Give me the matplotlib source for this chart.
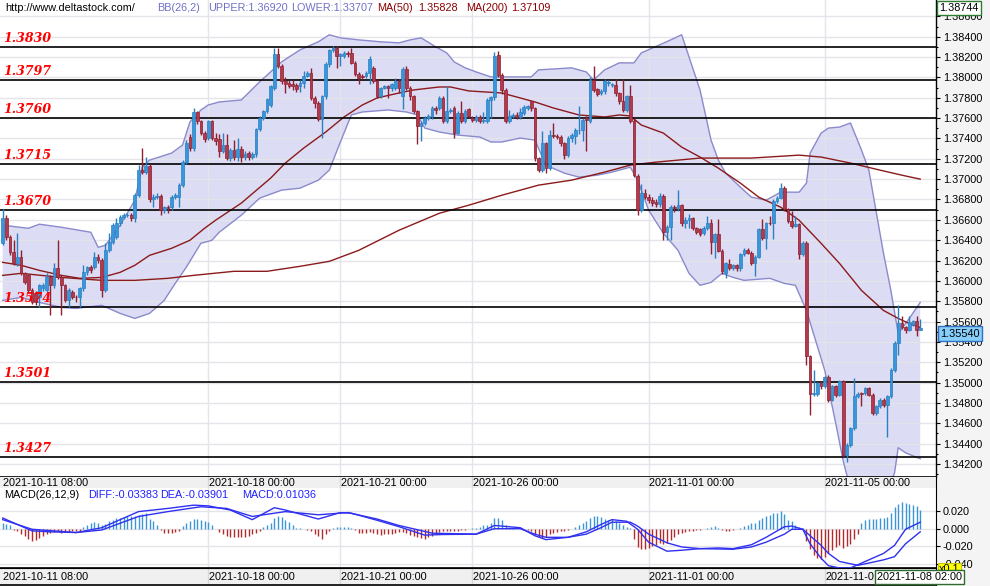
import numpy as np
import matplotlib
matplotlib.use("Agg")
import matplotlib.pyplot as plt
from matplotlib.ticker import MultipleLocator, FuncFormatter

plt.rcParams['font.family'] = ['Liberation Sans', 'DejaVu Sans']

# ---- 2H candles, 2021-10-11 08:00 onwards ----
opens = [
    1.36368, 1.36615, 1.36434, 1.36286, 1.36171, 1.36237, 1.36073, 1.36057, 1.35909, 1.35876,
    1.35843, 1.35925, 1.35910, 1.36040, 1.35958, 1.36122, 1.36040, 1.35958, 1.35810, 1.35892,
    1.35843, 1.35843, 1.35925, 1.36089, 1.36139, 1.36139, 1.36237, 1.36204, 1.35909, 1.36303,
    1.36385, 1.36434, 1.36566, 1.36631, 1.36648, 1.36648, 1.36615, 1.36845, 1.37091, 1.37075,
    1.37130, 1.36802, 1.36822, 1.36835, 1.36697, 1.36730, 1.36730, 1.36828, 1.36828, 1.36943,
    1.37173, 1.37419, 1.37304, 1.37656, 1.37567, 1.37452, 1.37403, 1.37567, 1.37407, 1.37390,
    1.37275, 1.37340, 1.37210, 1.37290, 1.37220, 1.37300, 1.37220, 1.37260, 1.37220, 1.37243,
    1.37489, 1.37604, 1.37669, 1.37730, 1.37899, 1.38228, 1.38113, 1.37965, 1.37949, 1.37940,
    1.37930, 1.37916, 1.37949, 1.38014, 1.38047, 1.37801, 1.37752, 1.37587, 1.37817, 1.38129,
    1.38267, 1.38293, 1.38211, 1.38211, 1.38240, 1.38244, 1.38146, 1.38031, 1.38014, 1.38014,
    1.38047, 1.38096, 1.37965, 1.37817, 1.37900, 1.37916, 1.37899, 1.37899, 1.37965, 1.37817,
    1.38080, 1.37899, 1.37817, 1.37669, 1.37522, 1.37555, 1.37604, 1.37620, 1.37700, 1.37702,
    1.37801, 1.37571, 1.37669, 1.37702, 1.37456, 1.37653, 1.37571, 1.37686, 1.37600, 1.37580,
    1.37610, 1.37570, 1.37568, 1.37775, 1.37807, 1.38224, 1.38027, 1.37880, 1.37568, 1.37623,
    1.37633, 1.37610, 1.37650, 1.37699, 1.37765, 1.37699, 1.37206, 1.37091, 1.37354, 1.37114,
    1.37436, 1.37420, 1.37413, 1.37354, 1.37239, 1.37403, 1.37420, 1.37479, 1.37479, 1.37600,
    1.37568, 1.37978, 1.37886, 1.37847, 1.37863, 1.37945, 1.37929, 1.37929, 1.37847, 1.37765,
    1.37683, 1.37814, 1.37568, 1.37032, 1.36697, 1.36862, 1.36829, 1.36796, 1.36780, 1.36757,
    1.36839, 1.36484, 1.36533, 1.36730, 1.36714, 1.36747, 1.36566, 1.36599, 1.36615, 1.36517,
    1.36506, 1.36473, 1.36523, 1.36572, 1.36381, 1.36457, 1.36293, 1.36079, 1.36161, 1.36129,
    1.36152, 1.36129, 1.36260, 1.36303, 1.36276, 1.36178, 1.36237, 1.36506, 1.36424, 1.36572,
    1.36565, 1.36785, 1.36818, 1.36917, 1.36703, 1.36588, 1.36539, 1.36555, 1.36260, 1.36375,
    1.35258, 1.34890, 1.34890, 1.34996, 1.34969, 1.35055, 1.34831, 1.34969, 1.34880, 1.35012,
    1.34289, 1.34388, 1.34552, 1.34864, 1.34897, 1.34897, 1.34946, 1.34880, 1.34700, 1.34766,
    1.34831, 1.34782, 1.34864, 1.35127, 1.35390, 1.35587, 1.35547, 1.35521, 1.35570, 1.35603, 1.35521]

closes = [
    1.36615, 1.36434, 1.36286, 1.36171, 1.36237, 1.36073, 1.35991, 1.35909, 1.35794, 1.35794,
    1.35958, 1.35958, 1.36040, 1.35958, 1.36122, 1.36040, 1.35958, 1.35810, 1.35910, 1.35843,
    1.35840, 1.35925, 1.36089, 1.36139, 1.36106, 1.36237, 1.36204, 1.35909, 1.36303, 1.36385,
    1.36549, 1.36566, 1.36631, 1.36648, 1.36650, 1.36615, 1.36845, 1.37091, 1.37075, 1.37130,
    1.36802, 1.36828, 1.36835, 1.36697, 1.36723, 1.36713, 1.36828, 1.36845, 1.36943, 1.37173,
    1.37354, 1.37304, 1.37656, 1.37567, 1.37452, 1.37393, 1.37567, 1.37403, 1.37374, 1.37275,
    1.37340, 1.37210, 1.37290, 1.37220, 1.37300, 1.37220, 1.37250, 1.37220, 1.37250, 1.37489,
    1.37604, 1.37669, 1.37784, 1.37916, 1.38228, 1.38113, 1.37965, 1.37932, 1.37920, 1.37916,
    1.37883, 1.37949, 1.38014, 1.38047, 1.37800, 1.37752, 1.37587, 1.37817, 1.38129, 1.38267,
    1.38293, 1.38211, 1.38228, 1.38244, 1.38230, 1.38146, 1.38031, 1.37998, 1.38000, 1.38047,
    1.38178, 1.37965, 1.37817, 1.37899, 1.37916, 1.37899, 1.37932, 1.37965, 1.37899, 1.38080,
    1.37899, 1.37817, 1.37669, 1.37522, 1.37555, 1.37604, 1.37620, 1.37702, 1.37680, 1.37801,
    1.37571, 1.37669, 1.37680, 1.37456, 1.37653, 1.37571, 1.37669, 1.37620, 1.37580, 1.37610,
    1.37570, 1.37580, 1.37775, 1.37807, 1.38215, 1.38027, 1.37880, 1.37568, 1.37623, 1.37633,
    1.37610, 1.37656, 1.37709, 1.37715, 1.37699, 1.37206, 1.37091, 1.37354, 1.37114, 1.37436,
    1.37420, 1.37413, 1.37354, 1.37239, 1.37403, 1.37436, 1.37479, 1.37482, 1.37584, 1.37584,
    1.37978, 1.37880, 1.37840, 1.37870, 1.37962, 1.37952, 1.37939, 1.37847, 1.37765, 1.37683,
    1.37814, 1.37568, 1.37042, 1.36697, 1.36862, 1.36829, 1.36796, 1.36763, 1.36757, 1.36839,
    1.36484, 1.36533, 1.36730, 1.36714, 1.36747, 1.36566, 1.36599, 1.36615, 1.36517, 1.36484,
    1.36457, 1.36523, 1.36572, 1.36381, 1.36457, 1.36293, 1.36096, 1.36171, 1.36129, 1.36152,
    1.36129, 1.36260, 1.36303, 1.36276, 1.36178, 1.36237, 1.36506, 1.36424, 1.36565, 1.36565,
    1.36785, 1.36818, 1.36917, 1.36703, 1.36588, 1.36539, 1.36555, 1.36260, 1.36375, 1.35258,
    1.34890, 1.34897, 1.34996, 1.34963, 1.35055, 1.34831, 1.34969, 1.34880, 1.35012, 1.34289,
    1.34388, 1.34552, 1.34864, 1.34890, 1.34890, 1.34946, 1.34880, 1.34700, 1.34766, 1.34831,
    1.34782, 1.34864, 1.35127, 1.35390, 1.35587, 1.35547, 1.35521, 1.35593, 1.35603, 1.35521, 1.35540]

highs = [
    1.36703, 1.36648, 1.36450, 1.36400, 1.36467, 1.36300, 1.36090, 1.36070, 1.35930, 1.35900,
    1.35974, 1.35980, 1.36073, 1.36060, 1.36171, 1.36400, 1.36060, 1.35970, 1.35930, 1.35910,
    1.35860, 1.35940, 1.36155, 1.36150, 1.36160, 1.36286, 1.36260, 1.36220, 1.36368, 1.36467,
    1.36570, 1.36615, 1.36650, 1.36664, 1.36670, 1.36670, 1.36860, 1.37140, 1.37304, 1.37222,
    1.37150, 1.36850, 1.36860, 1.36850, 1.36740, 1.36750, 1.36845, 1.36860, 1.36960, 1.37190,
    1.37380, 1.37440, 1.37699, 1.37670, 1.37580, 1.37470, 1.37580, 1.37580, 1.37450, 1.37440,
    1.37450, 1.37440, 1.37310, 1.37380, 1.37400, 1.37330, 1.37280, 1.37280, 1.37270, 1.37500,
    1.37620, 1.37680, 1.37800, 1.37930, 1.38293, 1.38293, 1.38130, 1.38000, 1.37970, 1.37970,
    1.37950, 1.37970, 1.38060, 1.38060, 1.38096, 1.37820, 1.37770, 1.37830, 1.38150, 1.38280,
    1.38310, 1.38310, 1.38240, 1.38260, 1.38260, 1.38293, 1.38160, 1.38050, 1.38030, 1.38060,
    1.38211, 1.38110, 1.37980, 1.37910, 1.37930, 1.37930, 1.37950, 1.37998, 1.37980, 1.38100,
    1.38113, 1.37920, 1.37830, 1.37680, 1.37570, 1.37620, 1.37640, 1.37720, 1.37720, 1.37817,
    1.37820, 1.37916, 1.37700, 1.37720, 1.37670, 1.37768, 1.37690, 1.37700, 1.37620, 1.37630,
    1.37630, 1.37660, 1.37800, 1.37820, 1.38247, 1.38257, 1.38044, 1.37900, 1.37680, 1.37650,
    1.37660, 1.37700, 1.37730, 1.37730, 1.37770, 1.37710, 1.37220, 1.37469, 1.37370, 1.37486,
    1.37551, 1.37440, 1.37430, 1.37370, 1.37420, 1.37450, 1.37500, 1.37715, 1.37600, 1.37620,
    1.38000, 1.38116, 1.37900, 1.37890, 1.37980, 1.37970, 1.37950, 1.37985, 1.37860, 1.37985,
    1.37830, 1.37929, 1.37600, 1.37050, 1.36954, 1.36900, 1.36850, 1.36820, 1.36800, 1.36860,
    1.36850, 1.36550, 1.36750, 1.36750, 1.36894, 1.36760, 1.36630, 1.36660, 1.36630, 1.36530,
    1.36520, 1.36540, 1.36638, 1.36605, 1.36470, 1.36605, 1.36310, 1.36185, 1.36217, 1.36170,
    1.36165, 1.36270, 1.36320, 1.36320, 1.36290, 1.36250, 1.36520, 1.36605, 1.36580, 1.36638,
    1.36800, 1.36830, 1.36959, 1.36930, 1.36720, 1.36687, 1.36638, 1.36570, 1.36391, 1.36390,
    1.35275, 1.35127, 1.35010, 1.35012, 1.35065, 1.35070, 1.34980, 1.34980, 1.35030, 1.35025,
    1.34405, 1.34565, 1.35045, 1.34905, 1.34910, 1.34960, 1.34960, 1.34895, 1.34780, 1.34845,
    1.34845, 1.34880, 1.35140, 1.35405, 1.35767, 1.35652, 1.35560, 1.35652, 1.35620, 1.35652, 1.35626]

lows = [
    1.36350, 1.36400, 1.36250, 1.36155, 1.36150, 1.36057, 1.35970, 1.35890, 1.35777, 1.35760,
    1.35745, 1.35900, 1.35890, 1.35662, 1.35930, 1.36020, 1.35662, 1.35790, 1.35745, 1.35820,
    1.35794, 1.35745, 1.35900, 1.36060, 1.36080, 1.36120, 1.36180, 1.35843, 1.35890, 1.36280,
    1.36360, 1.36410, 1.36540, 1.36610, 1.36630, 1.36590, 1.36582, 1.36820, 1.37050, 1.37050,
    1.36780, 1.36730, 1.36800, 1.36648, 1.36670, 1.36664, 1.36700, 1.36800, 1.36730, 1.36920,
    1.37150, 1.37280, 1.37280, 1.37540, 1.37430, 1.37370, 1.37380, 1.37380, 1.37340, 1.37220,
    1.37260, 1.37190, 1.37180, 1.37190, 1.37180, 1.37170, 1.37190, 1.37190, 1.37200, 1.37220,
    1.37470, 1.37580, 1.37650, 1.37710, 1.37880, 1.38090, 1.37940, 1.37850, 1.37900, 1.37880,
    1.37860, 1.37860, 1.37900, 1.38000, 1.37780, 1.37700, 1.37570, 1.37407, 1.37790, 1.38100,
    1.38250, 1.38096, 1.38110, 1.38190, 1.38200, 1.38130, 1.38010, 1.37932, 1.37980, 1.37990,
    1.37932, 1.37950, 1.37801, 1.37801, 1.37890, 1.37801, 1.37870, 1.37880, 1.37850, 1.37686,
    1.37880, 1.37780, 1.37650, 1.37341, 1.37374, 1.37530, 1.37580, 1.37590, 1.37640, 1.37680,
    1.37550, 1.37550, 1.37650, 1.37407, 1.37440, 1.37550, 1.37550, 1.37600, 1.37560, 1.37560,
    1.37550, 1.37550, 1.37550, 1.37600, 1.37780, 1.38000, 1.37840, 1.37550, 1.37550, 1.37600,
    1.37590, 1.37590, 1.37630, 1.37680, 1.37670, 1.37180, 1.37070, 1.37070, 1.37065, 1.37090,
    1.37400, 1.37390, 1.37330, 1.37200, 1.37220, 1.37370, 1.37350, 1.37440, 1.37371, 1.37272,
    1.37550, 1.37860, 1.37820, 1.37830, 1.37840, 1.37920, 1.37910, 1.37820, 1.37740, 1.37660,
    1.37660, 1.37550, 1.37020, 1.36648, 1.36680, 1.36800, 1.36770, 1.36740, 1.36730, 1.36730,
    1.36402, 1.36400, 1.36402, 1.36680, 1.36690, 1.36540, 1.36520, 1.36520, 1.36500, 1.36460,
    1.36441, 1.36450, 1.36500, 1.36260, 1.36227, 1.36280, 1.36063, 1.36030, 1.36110, 1.36110,
    1.36096, 1.36096, 1.36240, 1.36260, 1.36160, 1.36046, 1.36220, 1.36400, 1.36309, 1.36550,
    1.36408, 1.36770, 1.36800, 1.36690, 1.36570, 1.36520, 1.36525, 1.36211, 1.36240, 1.35176,
    1.34677, 1.34870, 1.34870, 1.34940, 1.34950, 1.34810, 1.34815, 1.34860, 1.34865, 1.34270,
    1.34224, 1.34370, 1.34535, 1.34845, 1.34766, 1.34880, 1.34865, 1.34685, 1.34685, 1.34750,
    1.34765, 1.34470, 1.34845, 1.35100, 1.35275, 1.35530, 1.35488, 1.35505, 1.35555, 1.35455, 1.35520]

# ---- indicators (candle index, value) ----
bb_up_idx = [0, 7, 10, 16, 24, 26, 28, 32, 36, 38, 40, 46, 49, 51, 54, 56, 59, 65, 70, 76,
             81, 86, 89, 92, 97, 103, 108, 111, 114, 118, 121, 123, 126, 129, 133, 144, 146, 155, 159, 161,
             164, 168, 172, 174, 179, 182, 185, 190, 193, 195, 197, 201, 204, 208, 212, 217, 219, 220, 223, 225,
             228, 231, 234, 236, 240, 242, 244, 247, 250]
bb_up = [1.36547, 1.36517, 1.36557, 1.36527, 1.36478, 1.36330, 1.36350, 1.36547, 1.36793, 1.37118,
         1.37187, 1.37256, 1.37335, 1.37562, 1.37680, 1.37729, 1.37759, 1.37778, 1.37956, 1.38153,
         1.38271, 1.38350, 1.38419, 1.38389, 1.38369, 1.38350, 1.38340, 1.38369, 1.38389, 1.38300,
         1.38241, 1.38153, 1.38094, 1.38054, 1.38005, 1.38005, 1.38074, 1.38094, 1.38054, 1.37975,
         1.38074, 1.38143, 1.38143, 1.38241, 1.38320, 1.38369, 1.38419, 1.37877, 1.37384, 1.37187,
         1.37059, 1.36921, 1.36823, 1.36793, 1.36872, 1.36872, 1.36961, 1.37256, 1.37453, 1.37502,
         1.37512, 1.37552, 1.37286, 1.37089, 1.36271, 1.35906, 1.35483, 1.35630, 1.35788]

bb_lo_idx = [0, 5, 10, 16, 20, 27, 32, 36, 40, 44, 47, 50, 54, 57, 59, 65, 70, 76, 81, 86,
             89, 92, 95, 98, 105, 110, 113, 115, 119, 124, 130, 133, 136, 141, 145, 148, 153, 157, 162, 166,
             171, 173, 176, 180, 184, 187, 190, 193, 196, 199, 202, 209, 213, 216, 219, 224, 227, 229, 231, 236,
             240, 242, 243, 244, 246, 250]
bb_lo = [1.35808, 1.35837, 1.35788, 1.35739, 1.35729, 1.35759, 1.35680, 1.35631, 1.35680, 1.35808,
         1.35975, 1.36133, 1.36369, 1.36399, 1.36478, 1.36645, 1.36813, 1.36892, 1.36911, 1.36990,
         1.37089, 1.37365, 1.37631, 1.37660, 1.37680, 1.37660, 1.37631, 1.37502, 1.37463, 1.37433,
         1.37414, 1.37365, 1.37365, 1.37404, 1.37384, 1.37138, 1.37059, 1.37020, 1.37039, 1.37069,
         1.37118, 1.36990, 1.36695, 1.36468, 1.36300, 1.36074, 1.35956, 1.35985, 1.36074, 1.36034,
         1.36005, 1.36025, 1.35975, 1.35956, 1.35709, 1.35118, 1.34596, 1.34232, 1.33950, 1.33900,
         1.33950, 1.34020, 1.34110, 1.34360, 1.34310, 1.34251]

ma50_idx = [0, 5, 10, 16, 21, 27, 32, 36, 40, 46, 51, 55, 58, 65, 73, 77, 82, 88, 93, 98,
            102, 108, 112, 119, 122, 127, 136, 145, 150, 157, 164, 168, 171, 174, 180, 185, 190, 195, 201, 206,
            212, 217, 223, 228, 234, 240, 244, 247, 250]
ma50 = [1.36182, 1.36153, 1.36103, 1.36054, 1.36025, 1.36034, 1.36084, 1.36153, 1.36251, 1.36320,
        1.36399, 1.36517, 1.36596, 1.36764, 1.37010, 1.37158, 1.37305, 1.37463, 1.37611, 1.37729,
        1.37798, 1.37847, 1.37877, 1.37906, 1.37906, 1.37867, 1.37847, 1.37759, 1.37700, 1.37631,
        1.37611, 1.37631, 1.37621, 1.37532, 1.37453, 1.37315, 1.37217, 1.37108, 1.36961, 1.36823,
        1.36724, 1.36596, 1.36369, 1.36172, 1.35906, 1.35709, 1.35631, 1.35581, 1.35542]

ma200_idx = [0, 5, 16, 27, 36, 45, 52, 63, 72, 81, 89, 97, 108, 119, 127, 136, 146, 155, 164, 171,
             178, 190, 204, 217, 223, 231, 239, 245, 250]
ma200 = [1.36054, 1.36074, 1.36034, 1.36005, 1.36005, 1.36025, 1.36054, 1.36094, 1.36094, 1.36143,
         1.36192, 1.36300, 1.36498, 1.36665, 1.36744, 1.36842, 1.36941, 1.36990, 1.37069, 1.37138,
         1.37167, 1.37207, 1.37207, 1.37236, 1.37217, 1.37158, 1.37089, 1.37039, 1.37000]

macd_hist = [
    0.0066, 0.0058, 0.0036, -0.0015, -0.0025, -0.0062, -0.0080, -0.0116, -0.0135, -0.0124,
    -0.0109, -0.0080, -0.0062, -0.0044, -0.0036, -0.0029, -0.0044, -0.0036, -0.0036, -0.0029,
    -0.0029, -0.0022, 0.0022, 0.0047, 0.0066, 0.0073, 0.0066, 0.0036, 0.0058, 0.0084,
    0.0102, 0.0120, 0.0120, 0.0131, 0.0138, 0.0138, 0.0146, 0.0157, 0.0167, 0.0175,
    0.0109, 0.0084, 0.0047, -0.0015, -0.0044, -0.0044, -0.0044, -0.0036, -0.0025, 0.0029,
    0.0066, 0.0084, 0.0109, 0.0109, 0.0102, 0.0084, 0.0073, 0.0036, -0.0007, -0.0036,
    -0.0062, -0.0080, -0.0098, -0.0098, -0.0098, -0.0098, -0.0091, -0.0080, -0.0062, -0.0044,
    -0.0025, 0.0022, 0.0036, 0.0066, 0.0120, 0.0138, 0.0131, 0.0102, 0.0073, 0.0036,
    0.0011, 0.0004, -0.0007, -0.0015, -0.0025, -0.0062, -0.0080, -0.0116, -0.0062, -0.0025,
    0.0011, 0.0022, 0.0022, 0.0022, 0.0022, 0.0007, -0.0015, -0.0044, -0.0051, -0.0051,
    -0.0036, -0.0051, -0.0062, -0.0073, -0.0066, -0.0066, -0.0062, -0.0051, -0.0036, -0.0036,
    -0.0051, -0.0073, -0.0087, -0.0098, -0.0109, -0.0116, -0.0098, -0.0080, -0.0051, -0.0036,
    -0.0025, -0.0022, -0.0022, -0.0022, -0.0022, -0.0015, -0.0015, -0.0004, 0.0004, 0.0004,
    0.0022, 0.0036, 0.0047, 0.0066, 0.0120, 0.0120, 0.0102, 0.0047, 0.0011, 0.0004,
    -0.0007, -0.0004, -0.0007, -0.0015, -0.0025, -0.0062, -0.0098, -0.0109, -0.0098, -0.0062,
    -0.0051, -0.0036, -0.0029, -0.0025, -0.0018, -0.0004, 0.0022, 0.0047, 0.0066, 0.0084,
    0.0120, 0.0146, 0.0146, 0.0131, 0.0109, 0.0102, 0.0109, 0.0084, 0.0066, 0.0036,
    0.0022, 0.0004, -0.0116, -0.0207, -0.0226, -0.0233, -0.0218, -0.0197, -0.0182, -0.0160,
    -0.0171, -0.0160, -0.0124, -0.0098, -0.0062, -0.0044, -0.0036, -0.0029, -0.0025, -0.0018,
    -0.0015, -0.0004, 0.0011, 0.0022, 0.0029, 0.0004, -0.0015, -0.0029, -0.0025, -0.0015,
    -0.0004, 0.0011, 0.0029, 0.0047, 0.0066, 0.0066, 0.0102, 0.0120, 0.0138, 0.0157,
    0.0175, 0.0182, 0.0204, 0.0167, 0.0102, 0.0084, 0.0047, 0.0022, 0.0004, -0.0135,
    -0.0226, -0.0298, -0.0335, -0.0342, -0.0317, -0.0280, -0.0244, -0.0207, -0.0182, -0.0218,
    -0.0197, -0.0171, -0.0116, -0.0062, 0.0066, 0.0102, 0.0109, 0.0109, 0.0109, 0.0120,
    0.0120, 0.0131, 0.0175, 0.0240, 0.0284, 0.0302, 0.0291, 0.0284, 0.0273, 0.0255, 0.0211]

diff_idx = [0, 8, 13, 20, 27, 37, 45, 52, 56, 62, 68, 74, 77, 86, 92, 95, 102, 108, 115, 120,
            129, 134, 136, 141, 145, 148, 154, 159, 163, 166, 170, 173, 176, 181, 185, 190, 195, 199, 204, 208,
            213, 215, 218, 220, 223, 225, 228, 231, 233, 236, 240, 243, 246, 250]
diff = [0.0120, -0.0025, -0.0036, -0.0044, 0.0011, 0.0193, 0.0229, 0.0266, 0.0258, 0.0211,
        0.0102, 0.0237, 0.0211, 0.0109, 0.0182, 0.0175, 0.0095, 0.0022, -0.0073, -0.0066,
        -0.0062, 0.0036, 0.0029, 0.0011, -0.0080, -0.0124, -0.0098, -0.0036, 0.0047, 0.0102,
        0.0084, -0.0007, -0.0153, -0.0255, -0.0244, -0.0226, -0.0218, -0.0226, -0.0182, -0.0098,
        0.0022, 0.0029, -0.0007, -0.0171, -0.0335, -0.0419, -0.0444, -0.0444, -0.0408, -0.0353,
        -0.0280, -0.0189, -0.0007, 0.0073]

dea_idx = [0, 8, 20, 27, 37, 45, 54, 61, 68, 77, 86, 94, 102, 108, 117, 129, 134, 141, 145, 148,
           154, 159, 163, 166, 171, 173, 176, 181, 185, 190, 199, 204, 208, 213, 215, 218, 223, 225, 228, 233,
           236, 240, 243, 246, 250]
dea = [0.0102, -0.0007, -0.0044, -0.0015, 0.0138, 0.0193, 0.0248, 0.0229, 0.0138, 0.0193,
       0.0157, 0.0182, 0.0109, 0.0036, -0.0051, -0.0062, 0.0000, 0.0000, -0.0062, -0.0098,
       -0.0098, -0.0062, 0.0011, 0.0073, 0.0073, 0.0029, -0.0062, -0.0160, -0.0207, -0.0226,
       -0.0233, -0.0207, -0.0153, -0.0062, -0.0007, -0.0007, -0.0189, -0.0280, -0.0371, -0.0415,
       -0.0389, -0.0353, -0.0317, -0.0171, -0.0036]

levels = [1.3830, 1.3797, 1.3760, 1.3715, 1.3670, 1.3574, 1.3501, 1.3427]
date_idx = [0, 56, 92, 128, 176, 224]
date_labels = ['2021-10-11 08:00', '2021-10-18 00:00', '2021-10-21 00:00',
               '2021-10-26 00:00', '2021-11-01 00:00', '2021-11-05 00:00']

# ---- layout (pixel boxes) ----
W, H = 990, 586
fig = plt.figure(figsize=(W / 100, H / 100), dpi=100)
fig.patch.set_facecolor('#f4f4f4')


def box(x0, y0, x1, y1):
    return [x0 / W, 1 - y1 / H, (x1 - x0) / W, (y1 - y0) / H]


ax = fig.add_axes(box(0, 0, 936, 477))
band1 = fig.add_axes(box(0, 477, 936, 488))
ax2 = fig.add_axes(box(0, 488, 936, 568))
band2 = fig.add_axes(box(0, 568, 936, 585))

xmin, xmax = -0.74, 254.3
fs = 7.8
grid_c = '#e4e4ea'

o = np.array(opens)
c = np.array(closes)
hi = np.maximum(np.array(highs), np.maximum(o, c))
lo = np.minimum(np.array(lows), np.minimum(o, c))
x = np.arange(len(c))
up = c >= o

# ---- main price panel ----
ax.set_facecolor('white')
ax.fill(bb_up_idx + bb_lo_idx[::-1], bb_up + bb_lo[::-1], color='#dcdcf4', lw=0, zorder=1)
ax.plot(bb_up_idx, bb_up, color='#8a8acc', lw=1, zorder=2)
ax.plot(bb_lo_idx, bb_lo, color='#8a8acc', lw=1, zorder=2)

yt = np.arange(1.342, 1.3865, 0.002)
for v in yt:
    ax.axhline(v, color=grid_c, lw=1, zorder=1.5)
for d in date_idx[1:]:
    ax.axvline(d, color=grid_c, lw=1, zorder=1.5)

ax.plot(ma200_idx, ma200, color='#8b1a1a', lw=1, zorder=3)
ax.plot(ma50_idx, ma50, color='#8b1a1a', lw=1, zorder=3)

for lv in levels:
    ax.axhline(lv, color='black', lw=1.2, zorder=3.5)
    ax.annotate(f'{lv:.4f}', xy=(0, lv), xycoords=('axes fraction', 'data'),
                xytext=(3, 5), textcoords='offset pixels', va='baseline', ha='left',
                color='red', fontsize=9, fontweight='bold', fontstyle='italic',
                family='DejaVu Serif', zorder=7)

edge = np.where(up, '#2a7fc0', '#8e1f2f')
fill = np.where(up, '#3796dc', '#b23a4c')
ax.vlines(x, lo, hi, colors=edge, lw=1, zorder=4)
ax.bar(x, np.maximum(np.abs(c - o), 0.00002), bottom=np.minimum(o, c), width=0.74,
       color=fill, edgecolor=edge, linewidth=0.5, zorder=5)

ax.set_xlim(xmin, xmax)
ax.set_ylim(1.34072, 1.38761)
ax.set_xticks([])
ax.yaxis.tick_right()
ax.set_yticks(yt)
ax.yaxis.set_major_formatter(FuncFormatter(lambda v, p: f'{v:.5f}'))
ax.yaxis.set_minor_locator(MultipleLocator(0.001))
ax.tick_params(axis='y', which='major', direction='out', length=3, width=0.8, labelsize=fs, pad=2)
ax.tick_params(axis='y', which='minor', direction='out', length=1.5, width=0.8)
for s in ['left', 'top']:
    ax.spines[s].set_visible(False)
ax.spines['right'].set_linewidth(1)
ax.spines['bottom'].set_linewidth(1.2)

ax.annotate(f'{closes[-1]:.5f}', xy=(1, closes[-1]), xycoords=('axes fraction', 'data'),
            xytext=(4, -6), textcoords='offset pixels', va='center', ha='left', fontsize=fs,
            bbox=dict(boxstyle='square,pad=0.2', fc='#87cefa', ec='#3070c0', lw=1), zorder=8,
            annotation_clip=False)

# ---- header ----
head_y = 1 - 8 / H
fig.text(5 / W, head_y, 'http://www.deltastock.com/', fontsize=fs, va='center', color='black')
fig.text(157 / W, head_y, 'BB(26,2)', fontsize=fs, va='center', color='#7070c8')
fig.text(208 / W, head_y, 'UPPER:1.36920', fontsize=fs, va='center', color='#7070c8')
fig.text(291 / W, head_y, 'LOWER:1.33707', fontsize=fs, va='center', color='#7070c8')
fig.text(377 / W, head_y, 'MA(50)', fontsize=fs, va='center', color='#8b0000')
fig.text(418 / W, head_y, '1.35828', fontsize=fs, va='center', color='#8b0000')
fig.text(466 / W, head_y, 'MA(200)', fontsize=fs, va='center', color='#8b0000')
fig.text(511 / W, head_y, '1.37109', fontsize=fs, va='center', color='#8b0000')
fig.text(939 / W, head_y, '1.38744', fontsize=fs, va='center',
         bbox=dict(boxstyle='square,pad=0.2', fc='white', ec='#2e7d32', lw=1))

# ---- date bands ----
for b in (band1, band2):
    b.set_facecolor('#f0f0f0')
    b.set_xlim(xmin, xmax)
    b.set_ylim(0, 1)
    b.set_xticks([])
    b.set_yticks([])
    b.spines['left'].set_visible(False)
    b.spines['top'].set_visible(False)
    for d in date_idx[1:]:
        b.axvline(d, color='#d8d8d8', lw=1)
band1.spines['bottom'].set_visible(False)
band2.spines['top'].set_visible(True)
band2.spines['bottom'].set_linewidth(1.2)
for d, lab in zip(date_idx, date_labels):
    band1.text(d + 0.15, 0.45, lab, fontsize=fs, va='center', ha='left')
# lower band: the last label is partly hidden by the cursor time box, as in the source
for d, lab in zip(date_idx[:-1], date_labels[:-1]):
    band2.text(d + 0.15, 0.45, lab, fontsize=fs, va='center', ha='left')
band2.text(date_idx[-1] + 0.15, 0.45, date_labels[-1][:9], fontsize=fs, va='center', ha='left')

# ---- MACD panel ----
ax2.set_facecolor('white')
mt = [-0.04, -0.02, 0.0, 0.02]
for v in mt:
    ax2.axhline(v, color=grid_c, lw=1, zorder=0.5)
for d in date_idx[1:]:
    ax2.axvline(d, color=grid_c, lw=1, zorder=0.5)
hist = np.array(macd_hist)
ax2.vlines(x, 0, hist, colors=np.where(hist >= 0, '#3a96d6', '#b22a2a'), lw=1, zorder=2)
ax2.plot(diff_idx, diff, color='#3030f0', lw=1.0, zorder=3)
ax2.plot(dea_idx, dea, color='#3030f0', lw=1.0, zorder=3)
ax2.set_xlim(xmin, xmax)
ax2.set_ylim(-0.0445, 0.046)
ax2.set_xticks([])
ax2.yaxis.tick_right()
ax2.set_yticks(mt)
ax2.yaxis.set_major_formatter(FuncFormatter(lambda v, p: f'{v:.3f}'))
ax2.tick_params(axis='y', direction='out', length=3, width=0.8, labelsize=fs, pad=2)
for s in ['left', 'top']:
    ax2.spines[s].set_visible(False)
ax2.spines['bottom'].set_linewidth(1.2)

mac_y = 1 - 495 / H
fig.text(4 / W, mac_y, 'MACD(26,12,9)', fontsize=fs, va='center', color='black')
fig.text(88 / W, mac_y, 'DIFF:-0.03383', fontsize=fs, va='center', color='#2020ff')
fig.text(160 / W, mac_y, 'DEA:-0.03901', fontsize=fs, va='center', color='#2020ff')
fig.text(242 / W, mac_y, 'MACD:0.01036', fontsize=fs, va='center', color='#2020ff')

# scale marker box sits over the lowest MACD tick label, as in the source
fig.text(939 / W, 1 - 569 / H, 'x0.1', fontsize=fs, va='center',
         bbox=dict(boxstyle='square,pad=0.1', fc='#ffff00', ec='#c8c800', lw=0.8))
fig.text(877 / W, 1 - 577 / H, '2021-11-08 02:00', fontsize=fs, va='center',
         bbox=dict(boxstyle='square,pad=0.2', fc='white', ec='#2e6b2e', lw=1))

fig.savefig('out.png', dpi=100)
print("process completed")
